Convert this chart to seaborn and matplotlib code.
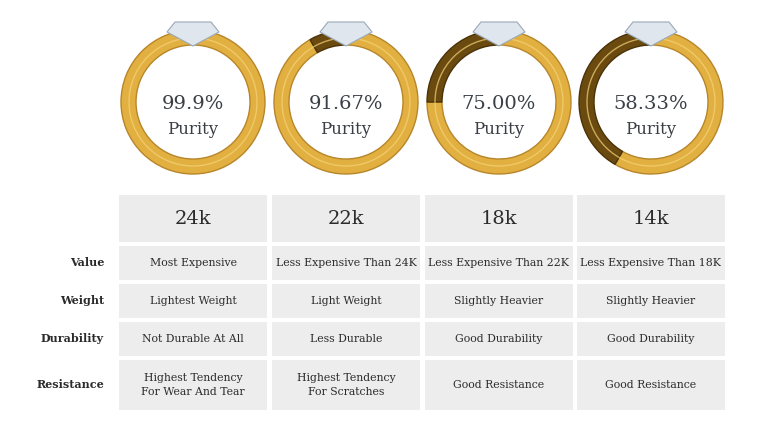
import numpy as np
import seaborn as sns
import matplotlib.pyplot as plt
from matplotlib.patches import Wedge, Rectangle, Circle, Polygon

karats = ["24k", "22k", "18k", "14k"]
purity = [99.9, 91.67, 75.00, 58.33]
purity_labels = ["99.9%", "91.67%", "75.00%", "58.33%"]
row_names = ["Value", "Weight", "Durability", "Resistance"]
value_txt = ["Most Expensive", "Less Expensive Than 24K", "Less Expensive Than 22K", "Less Expensive Than 18K"]
weight_txt = ["Lightest Weight", "Light Weight", "Slightly Heavier", "Slightly Heavier"]
dura_txt = ["Not Durable At All", "Less Durable", "Good Durability", "Good Durability"]
resist_txt = ["Highest Tendency\nFor Wear And Tear", "Highest Tendency\nFor Scratches", "Good Resistance", "Good Resistance"]

sns.set_style("white")
serif = "DejaVu Serif"
fig = plt.figure(figsize=(7.68, 4.25), dpi=100)
ax = fig.add_axes([0, 0, 1, 1])
ax.set_xlim(0, 768)
ax.set_ylim(425, 0)
ax.axis("off")

col_x = [119, 272, 425, 577]
col_w = 148
rows = [(246, 34), (284, 34), (322, 34), (360, 50)]
texts = [value_txt, weight_txt, dura_txt, resist_txt]
gold, dark = "#e2b040", "#6b4a10"

for i, k in enumerate(karats):
    cx = col_x[i] + col_w / 2
    cy = 102
    # y axis is inverted: data angle 270 is the visual top
    alloy = 100 - purity[i]
    ang = 360 * alloy / 100
    ax.add_patch(Wedge((cx, cy), 72, 270, 270 - ang + 360, width=15, facecolor=gold, edgecolor="#b8862a", lw=1))
    if alloy > 0.5:
        ax.add_patch(Wedge((cx, cy), 72, 270 - ang, 270, width=15, facecolor=dark, edgecolor="#4a3208", lw=1))
    ax.add_patch(Circle((cx, cy), 64, fill=False, edgecolor="#f5d37a", lw=1.0, alpha=0.7))
    # diamond
    ax.add_patch(Polygon([(cx - 26, cy - 70), (cx - 18, cy - 80), (cx + 18, cy - 80), (cx + 26, cy - 70), (cx, cy - 56)],
                         facecolor="#dfe6ee", edgecolor="#9aa8b8", lw=0.8))
    ax.text(cx, cy + 2, purity_labels[i], ha="center", va="center", fontsize=14, family=serif, color="#3a3f45")
    ax.text(cx, cy + 27, "Purity", ha="center", va="center", fontsize=12, family=serif, color="#3a3f45")
    # header
    ax.add_patch(Rectangle((col_x[i], 195), col_w, 47, facecolor="#ececec", edgecolor="none"))
    ax.text(cx, 219, k, ha="center", va="center", fontsize=14, family=serif, color="#2b2b2b")
    for r, (y0, h) in enumerate(rows):
        ax.add_patch(Rectangle((col_x[i], y0), col_w, h, facecolor="#ededed", edgecolor="none"))
        ax.text(cx, y0 + h / 2, texts[r][i], ha="center", va="center", fontsize=7.8,
                family=serif, color="#2b2b2b", linespacing=1.4)

for r, (y0, h) in enumerate(rows):
    ax.text(104, y0 + h / 2, row_names[r], ha="right", va="center", fontsize=8,
            family=serif, fontweight="bold", color="#2b2b2b")

fig.savefig("out.png", dpi=100)
